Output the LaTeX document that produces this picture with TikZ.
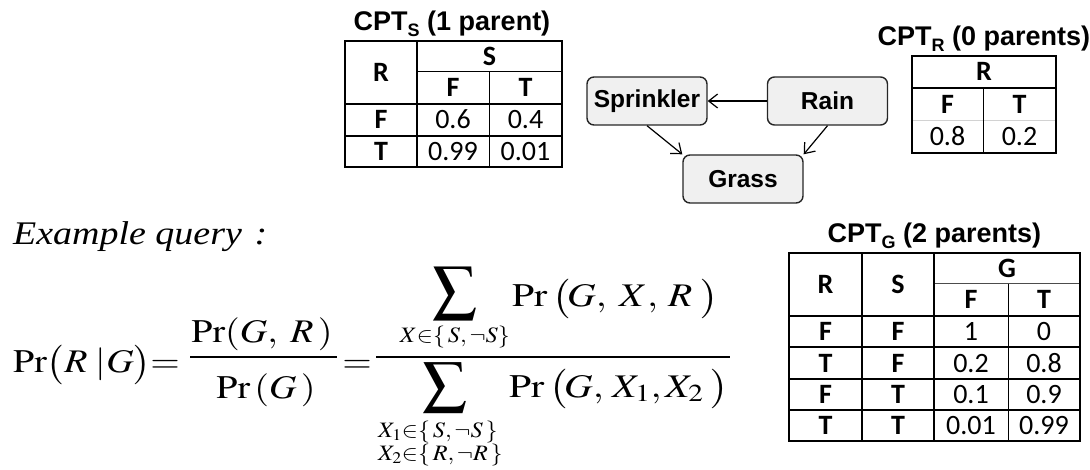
\documentclass[tikz,border=0pt]{standalone}
\usepackage{amsmath}
\usepackage{graphicx}
\usepackage{mathptmx}
\usepackage[no-math]{fontspec}
\newfontfamily\arialfont{Liberation Sans}
\newfontfamily\calfont{Carlito}
\newfontfamily\timesfont{Liberation Serif}
\usetikzlibrary{arrows.meta}
\newcommand\fm[1]{\scalebox{1.15}[1]{\fontsize{33}{40}\selectfont$\displaystyle#1$}}
\newcommand\fmw[1]{\scalebox{1.2}[1]{\fontsize{33}{40}\selectfont$\displaystyle#1$}}
\newcommand\fsb[1]{\scalebox{1.1}[1]{\fontsize{22}{26}\selectfont$#1$}}
\newcommand\ttlsub[1]{{\fontsize{18}{18}\selectfont\raisebox{-5.5pt}{#1}}}
\begin{document}
\begin{tikzpicture}[x=1pt,y=-1pt,
  thk/.style={line width=2pt},
  thn/.style={line width=1pt},
  cell/.style={anchor=base,inner sep=0pt,font=\calfont\fontsize{28}{28}\selectfont},
  cellb/.style={anchor=base,inner sep=0pt,font=\calfont\bfseries\fontsize{28}{28}\selectfont},
  ttl/.style={anchor=base,inner sep=0pt,font=\arialfont\bfseries\fontsize{27}{27}\selectfont},
  bn/.style={draw=black!85,line width=1.4pt,rounded corners=7pt,fill=gray!12,minimum width=120pt,minimum height=48pt,inner sep=0pt,font=\arialfont\bfseries\fontsize{24.5}{24.5}\selectfont},
  arr/.style={line width=1.2pt,-{Straight Barb[length=9pt,width=14pt]}},
  fml/.style={anchor=base west,inner sep=0pt},
  fmc/.style={anchor=base,inner sep=0pt},
  bar/.style={line width=1.6pt}]
\useasboundingbox (0,0) rectangle (1090,470);

% ---------- CPT_S ----------
\node[ttl] (ts) at (452,31) {CPT\ttlsub{S} (1 parent)};
\draw[thn] (417,72) -- (562,72);
\draw[thn] (489,72) -- (489,167);
\draw[thk] (417,41) -- (417,167);
\draw[thk] (345,104) -- (562,104);
\draw[thk] (345,136) -- (562,136);
\draw[thk] (345,41) rectangle (562,167);
\node[cellb] (s11) at (381,81.5) {R};
\node[cellb] (s12) at (489.5,65.5) {S};
\node[cellb] (s13) at (453,97) {F};
\node[cellb] (s14) at (525.5,97) {T};
\node[cellb] (s21) at (381,129) {F};
\node[cell] (s22) at (453,129) {0.6};
\node[cell] (s23) at (525.5,129) {0.4};
\node[cellb] (s31) at (381,160.5) {T};
\node[cell] (s32) at (453,160.5) {0.99};
\node[cell] (s33) at (525.5,160.5) {0.01};

% ---------- graph ----------
\node[bn] (spr) at (647,101) {Sprinkler};
\node[bn] (rain) at (827.5,101) {Rain};
\node[bn] (grass) at (743,179) {Grass};
\draw[arr] (rain.west) -- (spr.east);
\draw[arr] (spr.south) -- (grass.north west);
\draw[arr] (rain.south) -- (grass.north east);

% ---------- CPT_R ----------
\node[ttl] (tr) at (984,46) {CPT\ttlsub{R} (0 parents)};
\draw[thk] (912,88) -- (1056,88);
\draw[line width=1pt,gray!35] (912,121) -- (1056,121);
\draw[thn] (983,88) -- (983,153);
\draw[thk] (912,56) rectangle (1056,153);
\node[cellb] (r11) at (984,81) {R};
\node[cellb] (r21) at (947.5,113.5) {F};
\node[cellb] (r22) at (1019.5,113.5) {T};
\node[cell] (r31) at (947.5,146) {0.8};
\node[cell] (r32) at (1019.5,146) {0.2};

% ---------- CPT_G ----------
\node[ttl] (tg) at (934.5,243) {CPT\ttlsub{G} (2 parents)};
\draw[line width=1pt,black!70] (934,284) -- (1080,284);
\draw[thn] (1008,284) -- (1008,441);
\draw[thk] (862,253) -- (862,441);
\draw[thk] (934,253) -- (934,441);
\draw[thk] (789,316) -- (1080,316);
\draw[thk] (789,347) -- (1080,347);
\draw[thk] (789,379) -- (1080,379);
\draw[thk] (789,410) -- (1080,410);
\draw[thk] (789,253) rectangle (1080,441);
\node[cellb] (g01) at (825.5,293.5) {R};
\node[cellb] (g02) at (898,293.5) {S};
\node[cellb] (g03) at (1007,277.5) {G};
\node[cellb] (g04) at (971,309) {F};
\node[cellb] (g05) at (1044,309) {T};
\node[cellb] (g11) at (825.5,340.5) {F};
\node[cellb] (g12) at (898,340.5) {F};
\node[cell] (g13) at (971,340.5) {1};
\node[cell] (g14) at (1044,340.5) {0};
\node[cellb] (g21) at (825.5,372) {T};
\node[cellb] (g22) at (898,372) {F};
\node[cell] (g23) at (971,372) {0.2};
\node[cell] (g24) at (1044,372) {0.8};
\node[cellb] (g31) at (825.5,403.5) {F};
\node[cellb] (g32) at (898,403.5) {T};
\node[cell] (g33) at (971,403.5) {0.1};
\node[cell] (g34) at (1044,403.5) {0.9};
\node[cellb] (g41) at (825.5,434.5) {T};
\node[cellb] (g42) at (898,434.5) {T};
\node[cell] (g43) at (971,434.5) {0.01};
\node[cell] (g44) at (1044,434.5) {0.99};

% ---------- query ----------
\node[fml] (ex) at (13,245) {\scalebox{1.15}[1]{\timesfont\itshape\fontsize{33}{40}\selectfont Example query\,\,:}};

\node[fml] (lhs) at (13,373) {\fm{\Pr\bigl(R\;|G\bigr)}};
\node[fmc] (eq1) at (165,373) {\fm{=}};
\coordinate (b1l) at (190,357);
\coordinate (b1r) at (337,357);
\draw[bar] (b1l) -- (b1r);
\node[fmc] (n1) at (262,343) {\fm{\Pr(G,\;R\,)}};
\node[fmc] (d1) at (266,398) {\fm{\Pr\,(G\,)}};
\node[fmc] (eq2) at (357,373) {\fm{=}};
\coordinate (b2l) at (376,357);
\coordinate (b2r) at (730,357);
\draw[bar] (b2l) -- (b2r);
% numerator
\node[inner sep=0pt] (sum1) at (454.5,293.5) {\resizebox*{45pt}{53pt}{$\sum$}};
\node[fmc] (sb1) at (455,342) {\fsb{X{\in}\{\,S,\neg S\}}};
\node[fml] (n2a) at (512,307) {\fmw{\Pr}};
\node[fml] (n2b) at (552,307) {\fmw{\bigl(}};
\node[fml] (n2c) at (567,307) {\fmw{G,}};
\node[fml] (n2d) at (619,307) {\fmw{X,}};
\node[fml] (n2e) at (668,307) {\fmw{R}};
\node[fml] (n2f) at (700,307) {\fmw{\bigr)}};
% denominator
\node[inner sep=0pt] (sum2) at (444.5,388) {\resizebox*{45pt}{50pt}{$\sum$}};
\node[fml] (sb2) at (378,437) {\fsb{X_1{\in}\{\,S,\neg S\,\}}};
\node[fml] (sb3) at (378,460) {\fsb{X_2{\in}\{\,R,\neg R\,\}}};
\node[fml] (d2a) at (509,397) {\fmw{\Pr}};
\node[fml] (d2b) at (549,397) {\fmw{\bigl(}};
\node[fml] (d2c) at (564,397) {\fmw{G,}};
\node[fml] (d2d) at (612,397) {\fmw{X_1,}};
\node[fml] (d2e) at (665,397) {\fmw{X_2}};
\node[fml] (d2f) at (710,397) {\fmw{\bigr)}};
\end{tikzpicture}
\end{document}
